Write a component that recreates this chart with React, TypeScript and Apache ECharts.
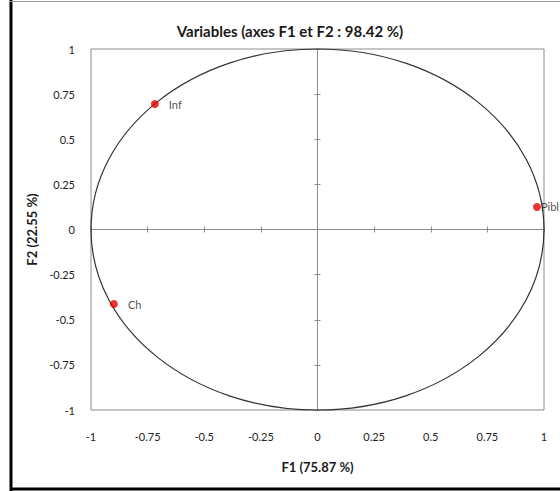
import React, { useEffect, useRef } from "react";
import * as echarts from "echarts";

const varNames = ["Inf", "Pibl", "Ch"];
const f1Values = [-0.718, 0.969, -0.899];
const f2Values = [0.695, 0.125, -0.413];
const labelDistances = [10, 0, 10];
const axisMin = -1;
const axisMax = 1;
const tickStep = 0.25;
const titleText = "Variables (axes F1 et F2 : 98.42 %)";
const xName = "F1 (75.87 %)";
const yName = "F2 (22.55 %)";

const FONT = "Lato, 'Open Sans', sans-serif";

export default function App() {
  const ref = useRef<HTMLDivElement>(null);
  useEffect(() => {
    if (!ref.current) return;
    const chart = echarts.init(ref.current, undefined, { renderer: "svg" });
    const tickFmt = (v: number) => String(v);
    const baseValueAxis = {
      type: "value" as const,
      min: axisMin,
      max: axisMax,
      interval: tickStep,
      splitLine: { show: false },
    };
    const zeroLine = { show: true, onZero: true, lineStyle: { color: "#8c8c8c", width: 1 } };
    chart.setOption({
      animation: false,
      backgroundColor: "#ffffff",
      textStyle: { fontFamily: FONT },
      title: {
        text: titleText,
        left: 285,
        top: 18,
        textAlign: "center",
        textStyle: { fontFamily: FONT, fontSize: 15, fontWeight: "bold", color: "#1a1a1a" },
      },
      grid: {
        left: 91,
        right: 16,
        top: 49,
        bottom: 81,
        show: true,
        borderColor: "#8c8c8c",
        borderWidth: 1,
        backgroundColor: "transparent",
      },
      graphic: [
        { type: "line", shape: { x1: 11, y1: 0, x2: 11, y2: 491 }, style: { stroke: "#000", lineWidth: 3 } },
        { type: "line", shape: { x1: 10, y1: 489, x2: 560, y2: 489 }, style: { stroke: "#000", lineWidth: 3 } },
        { type: "line", shape: { x1: 10, y1: 1.5, x2: 560, y2: 1.5 }, style: { stroke: "#9a9a9a", lineWidth: 1 } },
      ],
      xAxis: [
        {
          ...baseValueAxis,
          position: "bottom",
          axisLine: { show: false, onZero: false },
          axisTick: { show: false },
          axisLabel: { fontSize: 11, color: "#222", margin: 21, formatter: tickFmt, fontFamily: FONT },
          name: xName,
          nameLocation: "middle",
          nameGap: 50,
          nameTextStyle: { fontSize: 13, fontWeight: "bold", color: "#1a1a1a", fontFamily: FONT },
        },
        {
          ...baseValueAxis,
          axisLine: zeroLine,
          axisTick: { show: true, inside: false, length: 3, lineStyle: { color: "#8c8c8c" } },
          axisLabel: { show: false },
        },
        {
          ...baseValueAxis,
          axisLine: zeroLine,
          axisTick: { show: true, inside: true, length: 3, lineStyle: { color: "#8c8c8c" } },
          axisLabel: { show: false },
        },
      ],
      yAxis: [
        {
          ...baseValueAxis,
          position: "left",
          axisLine: { show: false, onZero: false },
          axisTick: { show: false },
          axisLabel: { fontSize: 11, color: "#222", margin: 16, formatter: tickFmt, fontFamily: FONT },
          name: yName,
          nameLocation: "middle",
          nameGap: 52,
          nameTextStyle: { fontSize: 13, fontWeight: "bold", color: "#1a1a1a", fontFamily: FONT },
        },
        {
          ...baseValueAxis,
          axisLine: zeroLine,
          axisTick: { show: true, inside: false, length: 3, lineStyle: { color: "#8c8c8c" } },
          axisLabel: { show: false },
        },
        {
          ...baseValueAxis,
          axisLine: zeroLine,
          axisTick: { show: true, inside: true, length: 3, lineStyle: { color: "#8c8c8c" } },
          axisLabel: { show: false },
        },
      ],
      series: [
        {
          type: "custom",
          xAxisIndex: 0,
          yAxisIndex: 0,
          silent: true,
          clip: false,
          data: [[0, 0]],
          renderItem: (params: any, api: any) => {
            const c = api.coord([0, 0]);
            const s = api.size([1, 1]);
            return {
              type: "ellipse",
              shape: { cx: c[0], cy: c[1], rx: s[0], ry: s[1] },
              style: { fill: "none", stroke: "#333333", lineWidth: 1.2 },
            };
          },
          z: 3,
        },
        {
          type: "scatter",
          xAxisIndex: 0,
          yAxisIndex: 0,
          symbol: "circle",
          symbolSize: 8,
          itemStyle: { color: "#e60000" },
          z: 5,
          data: varNames.map((n, i) => ({
            name: n,
            value: [f1Values[i], f2Values[i]],
            label: {
              show: true,
              position: "right",
              distance: labelDistances[i],
              formatter: n,
              fontSize: 11,
              color: "#1a1a1a",
              fontFamily: FONT,
            },
          })),
        },
      ],
    });
    return () => chart.dispose();
  }, []);
  return (
    <div
      ref={ref}
      style={{ position: "absolute", left: 0, top: 0, width: 560, height: 491 }}
    />
  );
}
